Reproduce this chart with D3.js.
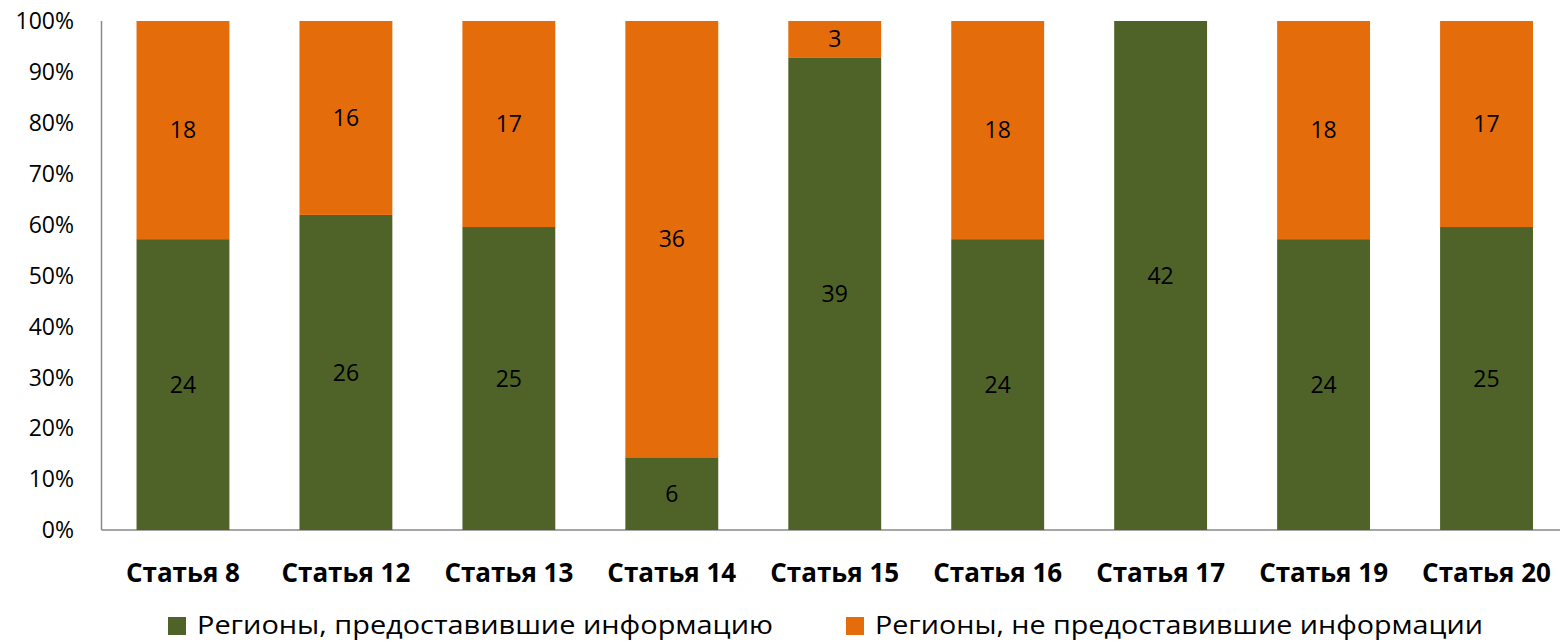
<!DOCTYPE html>
<html><head><meta charset="utf-8">
<script src="https://cdn.jsdelivr.net/npm/d3@7"></script>
<style>body{margin:0;background:#fff;} svg{display:block;}</style>
</head><body>
<svg id="c" width="1560" height="642"></svg>
<script>
const categories = ["Статья 8","Статья 12","Статья 13","Статья 14","Статья 15","Статья 16","Статья 17","Статья 19","Статья 20"];
const provided = [24,26,25,6,39,24,42,24,25];
const notProvided = [18,16,17,36,3,18,0,18,17];
const yTicks = [0,0.1,0.2,0.3,0.4,0.5,0.6,0.7,0.8,0.9,1];
const seriesNames = ["Регионы, предоставившие информацию","Регионы, не предоставившие информации"];
const colors = ["#4F6228","#E46C0A"];

const svg = d3.select("#c");
const font = "'Open Sans', sans-serif";
const L = 101.5, R = 1568, T = 21, B = 530;
const x = d3.scaleBand().domain(categories).range([L, R]).paddingInner(0.43).paddingOuter(0.215);
const y = d3.scaleLinear().domain([0,1]).range([B, T]);

const rows = categories.map((c,i)=>({c, a:provided[i], b:notProvided[i], t:provided[i]+notProvided[i]}));

// axes
svg.append("line").attr("x1",L).attr("x2",L).attr("y1",T).attr("y2",B).attr("stroke","#898989").attr("stroke-width",1.5);
svg.append("line").attr("x1",L).attr("x2",1560).attr("y1",B).attr("y2",B).attr("stroke","#898989").attr("stroke-width",1.5);

svg.append("g").selectAll("text").data(yTicks).join("text")
  .attr("x",74).attr("y",d=>y(d)).attr("dy","0.36em").attr("text-anchor","end")
  .attr("font-family",font).attr("font-size",23).attr("fill","#000")
  .text(d=>Math.round(d*100)+"%");

const g = svg.append("g");
rows.forEach(r=>{
  const segs = [
    {v:r.a, y0:0, y1:r.a/r.t, col:colors[0]},
    {v:r.b, y0:r.a/r.t, y1:1, col:colors[1]}
  ];
  segs.forEach(s=>{
    if(s.v<=0) return;
    g.append("rect").attr("x",x(r.c)).attr("width",x.bandwidth())
      .attr("y",y(s.y1)).attr("height",y(s.y0)-y(s.y1)).attr("fill",s.col);
    g.append("text").attr("x",x(r.c)+x.bandwidth()/2).attr("y",(y(s.y0)+y(s.y1))/2)
      .attr("dy","0.36em").attr("text-anchor","middle")
      .attr("font-family",font).attr("font-size",23).attr("fill","#000").text(s.v);
  });
});

svg.append("g").selectAll("text").data(categories).join("text")
  .attr("x",d=>x(d)+x.bandwidth()/2).attr("y",573).attr("dy","0.36em").attr("text-anchor","middle")
  .attr("font-family",font).attr("font-size",26).attr("font-weight","bold").attr("fill","#000")
  .text(d=>d);

const legX = [168, 846];
const legW = [576, 608];
const lg = svg.append("g");
seriesNames.forEach((n,i)=>{
  lg.append("rect").attr("x",legX[i]).attr("y",617).attr("width",18).attr("height",18).attr("fill",colors[i]);
  lg.append("text").attr("x",legX[i]+29).attr("y",625).attr("dy","0.36em")
    .attr("font-family",font).attr("font-size",25).attr("fill","#000")
    .attr("textLength",legW[i]).attr("lengthAdjust","spacingAndGlyphs").text(n);
});
</script>
</body></html>
